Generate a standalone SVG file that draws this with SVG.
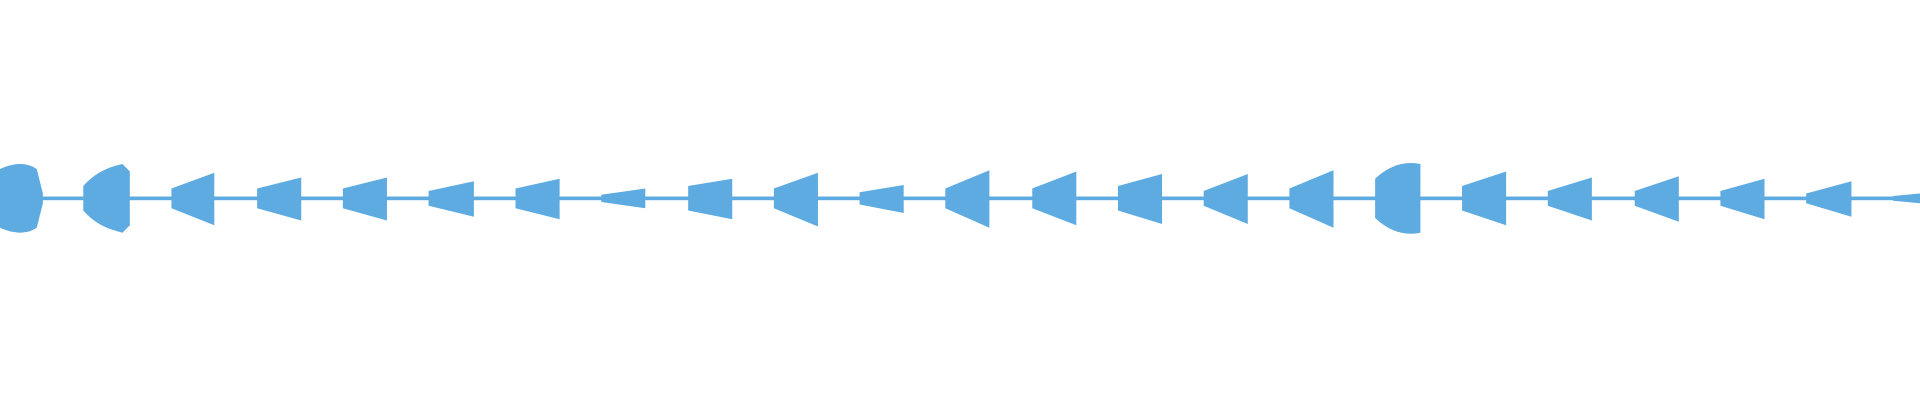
<svg xmlns="http://www.w3.org/2000/svg" width="1920" height="400" viewBox="0 0 1920 400">
<style>.w{fill:#5eabe1}</style>
<rect width="1920" height="400" fill="#fff"/>
<g transform="scale(1.2245)" class="w">
<rect x="0" y="160.5" width="1568" height="3"/>
<path d="M0 138 Q18 130 30 138 L35 158 L35 166 L30 186 Q18 194 0 186 Z"/>
<path d="M68 152 Q80 138 100 134 L106 140 L106 184 L100 190 Q80 186 68 172 Z"/>
<path d="M140 154 L175 141 L175 184 L140 170 Z"/>
<path d="M210 154 L246 145 L246 180 L210 170 Z"/>
<path d="M280 154 L316 145 L316 180 L280 170 Z"/>
<path d="M350 156 L387 148 L387 177 L350 168 Z"/>
<path d="M421 154 L457 146 L457 179 L421 170 Z"/>
<path d="M491 159 L527 154 L527 170 L491 165 Z"/>
<path d="M562 152 L598 146 L598 179 L562 172 Z"/>
<path d="M632 154 L668 141 L668 185 L632 170 Z"/>
<path d="M702 157 L738 151 L738 174 L702 167 Z"/>
<path d="M772 154 L808 139 L808 186 L772 170 Z"/>
<path d="M843 154 L879 140 L879 184 L843 170 Z"/>
<path d="M913 152 L949 142 L949 183 L913 172 Z"/>
<path d="M983 156 L1019 142 L1019 183 L983 168 Z"/>
<path d="M1053 154 L1089 139 L1089 186 L1053 170 Z"/>
<path d="M1123 146 Q1140 130 1160 134 L1160 190 Q1140 194 1123 178 Z"/>
<path d="M1194 152 L1230 140 L1230 184 L1194 172 Z"/>
<path d="M1264 156 L1300 145 L1300 180 L1264 168 Z"/>
<path d="M1335 156 L1371 144 L1371 181 L1335 168 Z"/>
<path d="M1405 156 L1441 146 L1441 179 L1405 168 Z"/>
<path d="M1475 158 L1512 148 L1512 177 L1475 166 Z"/>
<path d="M1546 160 L1568 158 L1568 166 L1546 164 Z"/>
</g>
</svg>
